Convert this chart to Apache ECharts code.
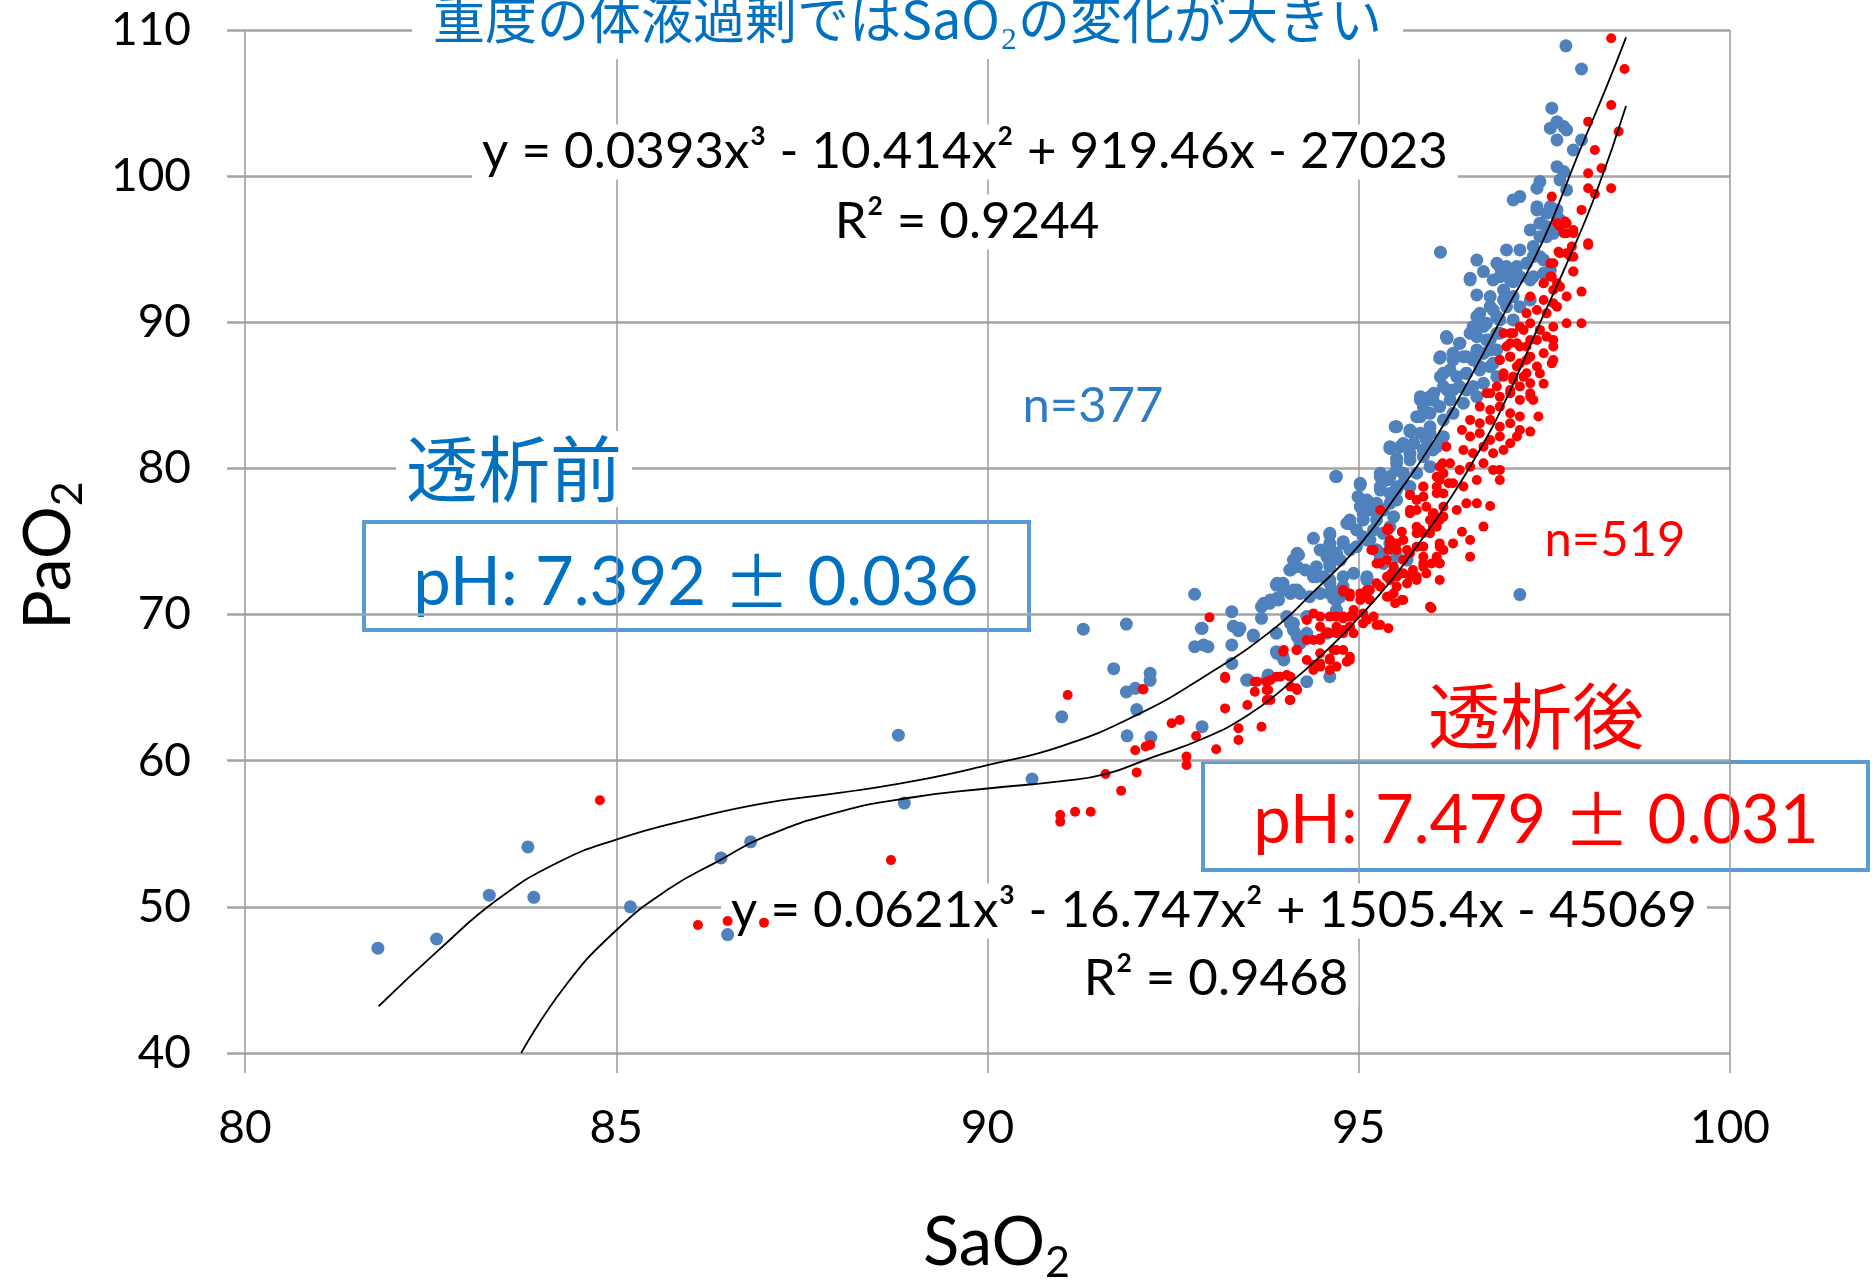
<!DOCTYPE html>
<html>
<head>
<meta charset="utf-8">
<script src="https://cdn.jsdelivr.net/npm/echarts@6/dist/echarts.min.js"></script>
<style>
  html, body { margin: 0; padding: 0; background: #fff; }
  #chart { width: 1872px; height: 1281px; }
</style>
</head>
<body>
<div id="chart"></div>
<script>
// axis ticks
const xTicks = [80, 85, 90, 95, 100]
const yTicks = [40, 50, 60, 70, 80, 90, 100, 110]

// 透析前 (SaO2, PaO2)
const beforeDialysis = [
  [81.79, 47.17], [82.58, 47.8], [83.29, 50.8], [83.81, 54.1], [83.89, 50.65], [85.19, 50.0],
  [86.41, 53.35], [86.5, 48.1], [86.81, 54.45], [88.8, 61.75], [88.88, 57.1], [90.6, 58.75],
  [91.0, 63.0], [91.29, 69.0], [91.87, 69.35], [91.7, 66.3], [91.87, 64.7], [91.99, 64.95],
  [92.19, 65.98], [92.19, 65.5], [92.01, 63.5], [91.88, 61.7], [92.2, 61.6], [92.79, 71.39],
  [97.17, 71.37], [96.1, 94.8], [97.79, 108.92], [98.0, 107.33], [94.69, 79.45],
  [92.88, 69.06], [93.29, 70.2], [92.79, 67.8], [92.97, 67.8], [93.31, 69.2], [93.38, 68.9],
  [93.29, 67.92], [93.29, 66.66], [92.89, 62.33], [93.49, 65.52], [93.76, 65.52], [93.58, 68.53],
  [93.69, 70.54], [93.8, 70.77], [93.92, 71.0], [93.89, 72.02], [93.98, 72.14], [94.1, 73.16],
  [94.19, 74.08], [93.89, 68.72], [94.03, 69.86], [94.12, 69.4], [93.89, 67.46], [93.98, 67.12],
  [94.3, 69.86], [94.39, 75.22], [94.48, 74.42], [94.61, 75.56], [94.61, 74.87], [94.61, 74.08],
  [94.39, 72.59], [94.61, 72.14], [94.21, 68.49], [94.3, 68.72], [94.61, 65.75], [94.3, 65.41],
  [94.79, 74.87], [94.88, 76.47], [95.11, 77.16], [95.11, 77.84], [94.75, 71.45], [94.7, 71.0],
  [95.11, 72.37], [95.29, 74.19], [94.61, 73.51], [94.79, 74.99], [94.84, 76.24], [94.17, 74.19],
  [94.08, 73.05], [94.17, 73.28], [94.43, 72.71], [94.52, 72.59], [94.64, 71.68], [93.9, 72.14],
  [94.17, 71.68], [94.08, 71.45], [93.9, 71.11], [93.72, 70.77], [93.81, 71.0], [93.69, 69.74],
  [93.4, 69.06], [92.89, 69.06], [93.58, 68.6], [94.08, 69.4], [94.12, 68.94], [94.17, 68.49],
  [94.21, 68.03], [92.91, 67.92], [93.9, 67.35], [93.99, 66.89], [94.57, 68.72], [94.7, 70.08],
  [94.75, 71.23], [94.79, 72.59], [93.51, 65.52], [93.78, 65.87],
  [94.88, 76.24], [95.06, 76.93], [95.24, 77.16], [95.06, 75.33], [95.2, 75.79], [95.11, 72.48],
  [94.7, 74.19], [94.61, 73.28], [95.29, 73.96], [95.24, 74.42], [94.7, 70.31], [94.61, 71.45],
  [95.49, 82.86], [95.69, 82.51], [95.78, 83.54], [95.87, 84.22], [96.0, 84.68], [95.42, 81.37],
  [95.51, 80.69], [95.6, 81.71], [95.69, 81.03], [95.96, 82.4], [96.05, 81.49], [95.87, 81.26],
  [96.14, 82.17], [95.29, 79.43], [95.38, 79.21], [95.51, 79.89], [95.6, 79.66], [95.29, 78.52],
  [95.42, 78.29], [95.51, 78.75], [95.6, 78.98], [95.02, 78.86], [94.99, 78.07], [95.02, 77.38],
  [95.15, 77.15], [95.24, 77.61], [95.33, 77.15], [95.42, 77.61], [95.47, 76.7], [95.51, 77.84],
  [94.97, 75.79], [95.06, 76.47], [94.61, 75.44], [94.61, 74.64], [94.12, 73.73], [94.28, 73.05],
  [94.07, 73.05], [94.43, 73.28], [94.57, 73.96], [94.75, 73.73], [94.88, 74.42], [94.97, 74.64],
  [95.11, 75.1], [94.43, 72.59], [94.61, 72.36], [94.79, 71.91], [94.93, 72.82], [95.11, 72.59],
  [93.98, 71.68], [94.12, 71.68], [94.21, 71.45], [94.34, 71.22], [94.48, 71.45], [94.66, 71.11],
  [95.24, 76.47], [95.33, 75.56], [95.42, 76.01], [95.24, 74.42], [95.42, 74.87], [95.15, 75.1],
  [95.51, 73.96], [95.51, 72.82], [95.65, 73.73], [95.33, 73.5],
  [96.59, 90.39], [96.68, 89.71], [96.77, 91.07], [96.86, 90.39], [96.95, 91.53], [96.18, 89.02],
  [96.36, 88.57], [96.5, 89.25], [96.59, 88.11], [96.09, 87.54], [96.27, 87.42], [96.41, 87.65],
  [96.54, 87.42], [96.68, 87.88], [96.14, 86.51], [96.32, 86.28], [96.45, 86.51], [96.63, 86.74],
  [96.77, 86.97], [96.14, 85.6], [96.27, 85.37], [96.45, 85.37], [96.68, 85.83], [96.86, 86.28],
  [95.83, 84.69], [95.96, 84.91], [96.09, 84.23], [96.23, 84.69], [96.41, 84.46], [96.59, 84.91],
  [95.83, 83.55], [95.96, 83.77], [96.14, 83.32], [96.27, 83.77], [95.51, 82.86], [95.69, 82.63],
  [95.83, 82.41], [95.96, 82.86], [95.42, 81.49], [95.56, 81.49], [95.74, 81.72], [95.91, 81.95],
  [96.09, 81.72], [95.51, 80.35], [95.69, 80.58], [95.87, 80.81], [96.0, 81.26], [95.29, 79.67],
  [95.42, 79.44], [95.6, 79.67], [95.78, 79.67], [95.96, 80.12], [94.7, 79.44], [95.02, 78.98],
  [95.29, 78.76], [95.51, 78.53], [95.69, 78.76], [96.72, 88.79], [96.77, 88.11], [96.86, 89.25],
  [97.08, 98.37], [97.4, 97.91], [97.53, 97.46], [97.67, 97.69], [97.71, 97.0], [97.31, 96.32],
  [97.44, 95.86], [97.53, 96.55], [97.62, 96.09], [96.99, 94.95], [97.17, 94.95], [97.35, 95.18],
  [97.44, 94.49], [96.59, 94.26], [96.68, 93.47], [96.86, 94.04], [96.99, 93.81], [97.13, 93.81],
  [97.26, 94.04], [96.5, 93.01], [96.9, 93.12], [97.04, 92.89], [97.17, 93.12], [97.35, 93.12],
  [97.49, 93.35], [97.58, 93.58], [96.59, 91.87], [96.77, 91.76], [96.95, 92.21], [97.08, 91.76],
  [96.63, 90.61], [96.81, 90.84], [96.99, 91.07], [97.17, 91.07], [97.31, 91.53], [96.54, 89.7],
  [96.72, 89.93], [96.9, 90.16], [97.08, 90.16], [96.19, 88.9], [96.36, 88.56], [96.59, 89.02],
  [96.77, 88.79], [96.9, 89.25], [96.1, 87.65], [96.27, 87.88], [96.45, 87.65], [96.68, 87.88],
  [96.86, 88.11], [96.1, 86.28], [96.23, 86.74], [96.45, 86.51], [96.63, 86.97], [96.81, 87.19],
  [95.83, 84.91], [96.01, 85.14], [96.19, 85.37], [96.36, 85.6], [96.54, 85.6],
  [97.6, 104.65], [97.67, 103.73], [97.76, 103.39], [97.58, 103.28], [97.8, 103.16], [97.67, 102.48],
  [97.89, 101.79], [98.0, 102.48], [97.67, 100.65], [97.76, 100.31], [97.71, 99.74], [97.44, 99.63],
  [97.4, 99.17], [97.8, 99.06], [97.17, 98.6], [97.4, 97.69], [97.58, 97.92], [97.67, 97.23],
  [97.44, 96.78], [97.53, 95.86], [97.35, 94.5], [97.49, 94.27], [96.9, 93.81], [97.04, 93.35],
  [96.5, 92.9], [96.81, 92.9], [97.08, 92.78], [97.31, 92.9]
]

// 透析後 (SaO2, PaO2)
const afterDialysis = [
  [84.78, 57.3], [86.1, 48.76], [86.5, 49.03], [86.99, 48.92], [88.7, 53.2], [90.98, 56.29],
  [90.98, 55.83], [91.18, 56.51], [91.39, 56.51], [91.08, 64.5], [92.09, 64.9], [91.59, 59.09],
  [91.8, 57.95], [92.01, 59.2], [91.99, 60.72], [92.13, 60.97],
  [92.1, 64.88], [92.99, 69.81], [93.2, 65.64], [93.2, 63.58], [92.48, 62.56], [92.59, 62.79],
  [92.81, 61.69], [92.19, 61.07], [93.08, 60.78], [92.68, 60.28], [92.68, 59.7], [93.38, 62.22],
  [93.38, 61.42], [93.69, 62.33], [93.5, 63.81], [93.6, 65.41], [93.6, 64.72], [93.76, 65.41],
  [93.76, 64.84], [93.76, 64.15], [93.89, 65.75], [94.03, 65.87], [94.07, 64.15], [93.98, 67.46],
  [94.16, 67.58], [94.16, 64.95], [94.3, 69.63], [94.39, 70.08], [94.3, 68.26], [94.39, 68.26],
  [94.48, 68.37], [94.48, 69.86], [94.61, 69.86], [94.7, 69.86], [94.3, 66.89], [94.48, 67.35],
  [94.61, 66.89], [94.39, 66.21], [94.48, 66.44], [94.61, 66.21], [94.7, 67.58], [94.88, 66.89],
  [94.79, 68.72], [94.93, 69.86], [95.11, 69.63], [95.24, 69.29], [95.4, 69.06], [95.11, 71.45],
  [95.24, 72.14], [95.02, 71.0], [95.2, 74.42], [95.29, 73.51], [95.4, 75.79], [95.4, 74.42],
  [95.51, 72.59], [95.6, 71.0], [95.47, 71.45], [95.69, 76.93], [95.78, 75.56], [95.87, 74.65],
  [96.0, 76.02], [96.14, 74.42], [95.98, 70.43], [95.69, 72.59], [95.91, 72.82], [96.09, 72.37],
  [96.77, 77.43], [96.68, 76.02], [96.5, 75.1], [96.5, 73.96], [96.27, 74.87], [96.09, 74.65],
  [96.09, 73.51], [96.39, 75.67], [95.96, 75.56], [95.83, 75.79], [95.96, 70.54], [95.58, 71.0],
  [95.49, 70.77], [95.4, 71.23], [95.78, 72.59], [95.87, 73.51], [95.6, 73.73], [95.65, 74.42],
  [95.51, 74.87], [95.42, 75.1], [95.38, 75.79], [95.38, 72.59], [95.44, 72.82], [95.11, 71.68],
  [95.06, 71.23], [95.15, 71.0], [94.88, 71.45], [94.79, 71.68], [94.93, 70.31], [95.06, 70.08],
  [95.2, 69.86], [94.79, 69.74], [94.7, 69.17], [94.61, 68.72], [94.88, 69.17], [94.93, 68.72],
  [95.06, 69.4], [95.29, 69.29], [94.79, 67.58], [94.88, 67.12], [96.01, 76.93], [96.09, 76.47],
  [96.32, 77.16], [96.45, 77.61], [96.59, 77.61],
  [93.2, 65.75], [93.99, 67.58], [94.17, 67.58], [94.48, 69.17], [94.57, 68.72], [94.48, 68.26],
  [94.79, 69.86], [94.88, 69.86], [94.7, 68.72], [94.79, 68.94], [94.88, 69.17], [94.88, 71.23],
  [94.61, 67.0], [94.66, 67.58], [94.39, 66.55], [94.48, 66.66], [94.7, 66.44], [94.84, 66.78],
  [93.63, 65.41], [93.81, 65.52], [93.94, 65.75], [94.08, 65.75], [93.78, 64.84], [94.08, 65.07],
  [94.17, 64.84], [94.08, 64.15], [93.81, 64.15],
  [96.13, 80.35], [96.14, 79.66], [96.05, 78.75], [96.14, 78.29], [96.21, 78.98], [96.05, 79.43],
  [95.87, 78.75], [95.69, 78.18], [95.78, 77.84], [95.87, 78.07], [95.69, 77.15], [95.78, 77.15],
  [95.91, 77.38], [96.0, 76.92], [96.14, 77.38], [95.78, 76.01], [95.87, 75.56], [95.96, 76.47],
  [96.05, 76.01], [96.14, 76.7], [95.29, 77.15], [95.4, 75.9], [95.58, 75.67], [95.42, 74.87],
  [95.51, 74.42], [95.6, 75.1], [95.69, 74.19], [95.78, 74.64], [95.87, 73.96], [95.17, 74.42],
  [95.24, 73.5], [95.38, 73.73], [95.47, 73.28], [95.6, 72.82], [95.73, 73.05], [95.87, 73.28],
  [95.98, 73.5], [96.09, 73.5], [95.42, 72.36], [95.51, 71.91], [95.65, 72.13], [95.78, 72.36],
  [94.79, 71.57], [95.02, 71.45], [95.15, 71.68], [95.29, 71.91], [95.38, 71.22], [96.09, 74.87],
  [96.05, 73.96],
  [96.95, 89.25], [97.08, 89.25], [97.22, 89.48], [97.04, 88.57], [97.17, 88.34], [97.31, 88.79],
  [96.9, 87.42], [97.04, 87.65], [97.13, 86.97], [97.26, 87.42], [96.95, 86.28], [97.08, 86.06],
  [97.22, 86.28], [97.31, 85.83], [96.77, 85.14], [96.9, 84.91], [97.04, 85.14], [97.17, 84.69],
  [97.31, 84.91], [96.63, 84.23], [96.77, 84.0], [96.9, 84.23], [97.04, 83.77], [97.17, 83.55],
  [96.5, 83.32], [96.63, 83.09], [96.77, 83.32], [96.9, 82.86], [97.04, 83.09], [97.17, 82.63],
  [96.39, 82.63], [96.5, 82.18], [96.63, 82.41], [96.77, 81.95], [96.9, 82.18], [97.04, 81.72],
  [97.13, 82.18], [96.18, 81.49], [96.41, 81.26], [96.54, 81.04], [96.68, 81.49], [96.81, 81.04],
  [96.95, 81.26], [96.09, 80.12], [96.23, 80.35], [96.36, 79.9], [96.5, 80.12], [96.68, 80.35],
  [96.81, 79.9], [96.9, 79.9], [96.09, 79.21], [96.27, 78.98], [96.41, 78.76], [96.59, 79.21],
  [95.69, 78.19], [95.87, 78.76], [96.05, 78.3], [97.31, 82.52], [96.9, 79.21], [97.62, 87.42],
  [97.35, 84.69], [97.42, 83.55], [97.49, 85.8], [97.44, 86.5],
  [98.0, 97.69], [97.67, 96.78], [97.8, 96.78], [97.89, 96.09], [97.76, 96.09], [98.09, 95.4],
  [97.69, 94.83], [97.8, 94.72], [97.89, 94.49], [97.62, 94.04], [97.89, 93.47], [97.6, 93.12],
  [97.71, 92.44], [97.49, 92.67], [97.62, 92.21], [98.0, 92.1], [97.8, 91.76], [97.31, 91.76],
  [97.49, 91.53], [97.62, 91.3], [97.26, 90.61], [97.4, 90.84], [97.53, 90.61], [97.67, 91.07],
  [97.04, 89.25], [97.17, 89.7], [97.31, 89.93], [97.44, 89.48], [97.62, 89.7], [97.8, 89.93],
  [98.0, 89.93], [96.99, 88.34], [97.13, 88.56], [97.26, 88.34], [97.4, 88.79], [97.53, 89.02],
  [97.62, 88.79], [97.62, 88.34], [96.9, 87.42], [97.04, 87.65], [97.17, 87.19], [97.31, 87.65],
  [97.49, 87.88], [96.95, 86.51], [97.08, 86.28], [97.26, 86.51], [97.4, 86.97], [97.6, 87.19],
  [96.72, 85.14], [96.86, 85.6], [97.04, 85.37], [97.17, 85.6], [97.31, 85.14],
  [98.4, 104.87], [98.09, 103.73], [98.5, 103.05], [98.18, 101.79], [98.27, 100.54], [98.09, 100.2],
  [98.09, 99.17], [98.4, 99.17], [97.6, 98.6], [98.18, 98.78], [97.78, 96.89], [97.71, 96.55],
  [97.8, 96.09], [97.89, 96.32], [98.09, 95.29], [97.71, 94.72], [97.87, 95.18], [97.85, 94.5],
  [97.58, 94.04], [97.89, 93.47], [97.58, 93.13], [97.49, 92.67], [97.67, 92.67],
  [98.4, 109.43], [98.58, 107.33]
]

// 近似曲線
const trendBefore = [
  [81.8, 43.2], [82.6, 47.0], [83.4, 50.5], [84.2, 53.0], [85.0, 54.6], [86.0, 56.0], [87.0, 57.1],
  [88.0, 57.8], [89.0, 58.6], [90.0, 59.7], [91.0, 61.0], [92.0, 63.1], [92.9, 65.7], [93.8, 68.8],
  [94.4, 71.6], [95.0, 74.7], [95.5, 78.1], [96.0, 81.8], [96.5, 86.2], [97.0, 91.0], [97.35, 94.2],
  [97.62, 97.2], [97.94, 101.3], [98.32, 105.9], [98.6, 109.5]
]
const trendAfter = [
  [83.72, 40.0], [84.3, 44.5], [85.0, 48.4], [85.7, 51.2], [86.4, 53.2], [87.0, 54.8], [88.0, 56.5],
  [89.0, 57.5], [90.0, 58.1], [91.0, 58.6], [91.6, 59.1], [92.2, 60.2], [92.9, 61.5], [93.5, 63.1],
  [94.0, 65.0], [94.6, 67.7], [95.0, 69.8], [95.4, 72.1], [95.8, 74.8], [96.2, 77.7], [96.6, 81.0],
  [97.0, 84.9], [97.4, 89.5], [97.8, 94.0], [98.2, 98.9], [98.6, 104.8]
]

const chart = echarts.init(document.getElementById('chart'))

const blue = '#4F81BD'
const textBlue = '#0070C0'

// white-backed text box
const note = (text, x, y, size, color, family) => ({
  type: 'text',
  z: 1,
  style: {
    text, x, y,
    textAlign: 'center',
    textVerticalAlign: 'middle',
    fontSize: size,
    fontFamily: family || 'Lato',
    fill: color,
    backgroundColor: '#fff',
    padding: [2, 10, 2, 10],
  },
})

const phBox = (label, x, y, color) => ({
  type: 'text',
  style: {
    text: label,
    x, y,
    textAlign: 'center',
    textVerticalAlign: 'middle',
    rich: {
      a: { fontSize: 67, fontFamily: 'Lato', fill: color, color },
      b: { fontSize: 67, fontFamily: 'Noto Sans CJK JP', fill: color, color },
    },
  },
})

chart.setOption({
  animation: false,
  backgroundColor: '#fff',
  textStyle: { fontFamily: 'Lato' },
  title: {
    text: '重度の体液過剰ではSaO₂の変化が大きい',
    left: 412,
    top: -8,
    padding: [0, 21, 12, 21],
    backgroundColor: '#fff',
    z: 10,
    textStyle: {
      fontFamily: 'Noto Sans CJK JP',
      fontSize: 52,
      fontWeight: 'normal',
      color: textBlue,
      lineHeight: 55,
    },
  },
  grid: { left: 245, right: 142, top: 30, bottom: 228, outerBoundsMode: 'none' },
  xAxis: {
    type: 'value',
    min: xTicks[0],
    max: xTicks[xTicks.length - 1],
    interval: xTicks[1] - xTicks[0],
    axisLine: { show: false },
    axisTick: { show: true, length: 20, lineStyle: { color: '#999', width: 1.5 } },
    axisLabel: { fontSize: 46, color: '#000', margin: 52 },
    splitLine: { show: true, lineStyle: { color: '#999', width: 1.5 } },
    name: '{a|SaO}{b|2}',
    nameLocation: 'middle',
    nameGap: 157,
    nameTextStyle: {
      rich: {
        a: { fontSize: 67, color: '#000', fontFamily: 'Lato', verticalAlign: 'bottom', padding: [0, 0, 8, 18] },
        b: { fontSize: 43, color: '#000', fontFamily: 'Lato', verticalAlign: 'bottom' },
      },
    },
  },
  yAxis: {
    type: 'value',
    min: yTicks[0],
    max: yTicks[yTicks.length - 1],
    interval: yTicks[1] - yTicks[0],
    axisLine: { show: false },
    axisTick: { show: true, length: 18, lineStyle: { color: '#a5a5a5', width: 2.5 } },
    axisLabel: { fontSize: 46, color: '#000', margin: 54 },
    splitLine: { show: true, lineStyle: { color: '#a5a5a5', width: 2.5 } },
    name: '{a|PaO}{b|2}',
    nameLocation: 'middle',
    nameRotate: 90,
    nameGap: 155,
    nameTextStyle: {
      rich: {
        a: { fontSize: 66, color: '#000', fontFamily: 'Lato', verticalAlign: 'bottom', padding: [0, 0, 8, 0] },
        b: { fontSize: 43, color: '#000', fontFamily: 'Lato', verticalAlign: 'bottom', padding: [0, 28, 0, 0] },
      },
    },
  },
  series: [
    {
      name: '透析前',
      type: 'scatter',
      data: beforeDialysis,
      symbolSize: 13,
      itemStyle: { color: blue, opacity: 1 },
      z: 2,
    },
    {
      name: '透析後',
      type: 'scatter',
      data: afterDialysis,
      symbolSize: 10,
      itemStyle: { color: '#FF0000', opacity: 1 },
      z: 3,
    },
    {
      type: 'line',
      data: trendBefore,
      smooth: true,
      symbol: 'none',
      lineStyle: { color: '#000', width: 1.8 },
      z: 4,
    },
    {
      type: 'line',
      data: trendAfter,
      smooth: true,
      symbol: 'none',
      lineStyle: { color: '#000', width: 1.8 },
      z: 4,
    },
  ],
  graphic: [
    note('y = 0.0393x³ - 10.414x² + 919.46x - 27023', 965, 152, 51, '#000'),
    note('R² = 0.9244', 967, 222, 51, '#000'),
    note('y = 0.0621x³ - 16.747x² + 1505.4x - 45069', 1214, 911, 51, '#000'),
    note('R² = 0.9468', 1216, 979, 51, '#000'),
    note('n=377', 1093, 406, 49, '#2E7BC4'),
    note('n=519', 1615, 540, 49, '#FF0000'),
    note('透析前', 514, 469, 72, textBlue, 'Noto Sans CJK JP'),
    note('透析後', 1536, 716, 72, '#FF0000', 'Noto Sans CJK JP'),
    {
      type: 'group',
      z: 10,
      children: [
        {
          type: 'rect',
          shape: { x: 364, y: 522, width: 665, height: 108 },
          style: { fill: '#fff', stroke: '#5B9BD5', lineWidth: 4 },
        },
        phBox('{a|pH: 7.392 }{b|±}{a| 0.036}', 696, 583, textBlue),
        {
          type: 'rect',
          shape: { x: 1203, y: 762, width: 665, height: 108 },
          style: { fill: '#fff', stroke: '#5B9BD5', lineWidth: 4 },
        },
        phBox('{a|pH: 7.479 }{b|±}{a| 0.031}', 1536, 821, '#FF0000'),
      ],
    },
  ],
})
</script>
</body>
</html>
